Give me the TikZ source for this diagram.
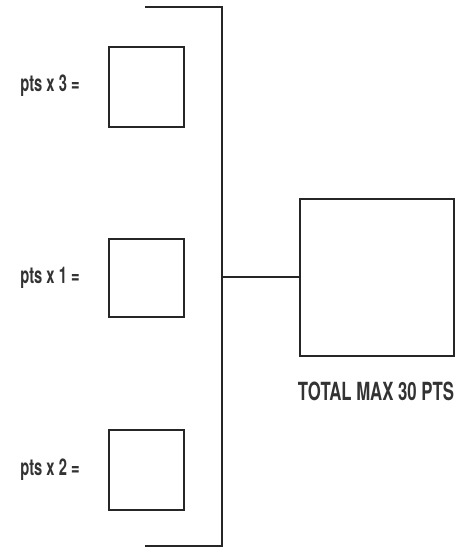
\documentclass[tikz,border=0pt]{standalone}
\usepackage{fontspec}
\setmainfont{TeX Gyre Heros}
\begin{document}
\begin{tikzpicture}[x=1pt,y=-1pt,
  line/.style={line width=2pt, draw=black!85},
  box/.style={draw=black!85, line width=2pt, minimum width=75pt, minimum height=80pt, inner sep=0pt, anchor=north west},
  lbl/.style={text=black!80, font=\fontsize{23}{23}\selectfont\bfseries, xscale=0.64, inner sep=0pt},
  total/.style={text=black!80, font=\fontsize{25}{25}\selectfont\bfseries, xscale=0.67, inner sep=0pt}]
\useasboundingbox (0,0) rectangle (462,548);
\coordinate (tl) at (145,7);
\coordinate (tr) at (222,7);
\coordinate (br) at (222,546);
\coordinate (bl) at (145,546);
\coordinate (mid) at (222,277);
\draw[line] (tl) -- (tr) -- (br) -- (bl);
\node[box] (b1) at (108,46) {};
\node[box, minimum height=78pt] (b2) at (108,238) {};
\node[box] (b3) at (108,429) {};
\node[box, minimum width=154pt, minimum height=157pt] (big) at (299,198) {};
\draw[line] (mid) -- (big.west |- mid);
\node[lbl] (l1) at (50,86) {pts x 3 =};
\node[lbl] (l2) at (50,278) {pts x 1 =};
\node[lbl] (l3) at (50,470) {pts x 2 =};
\node[total] (t) at (376,391) {TOTAL MAX 30 PTS};
\end{tikzpicture}
\end{document}
